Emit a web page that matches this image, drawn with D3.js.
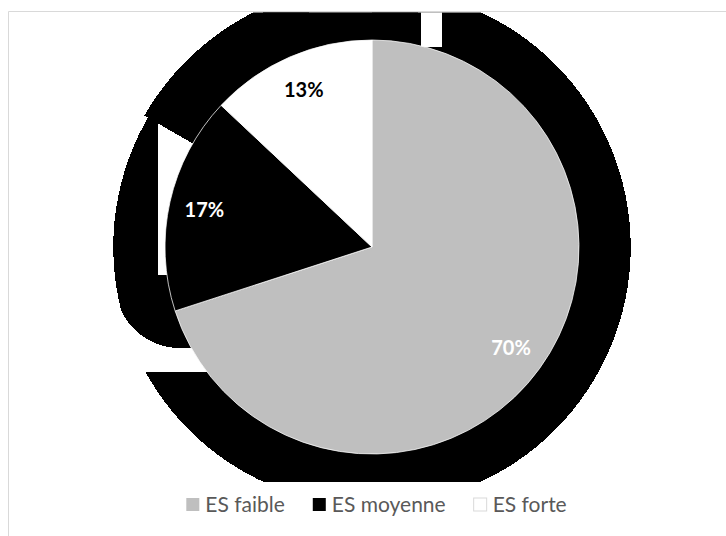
<!DOCTYPE html>
<html>
<head>
<meta charset="utf-8">
<script src="https://cdn.jsdelivr.net/npm/d3@7"></script>
<style>
  html, body { margin: 0; padding: 0; background: #fff; }
  svg { display: block; }
</style>
</head>
<body>
<svg id="chart" width="726" height="536"></svg>
<script>
// Series: share of respondents per level
const categories = ["ES faible", "ES moyenne", "ES forte"];
const shares = [70, 17, 13];
const labels = ["70%", "17%", "13%"];
const sliceColors = ["#bfbfbf", "#000000", "#ffffff"];
const labelColors = ["#ffffff", "#ffffff", "#000000"];

const W = 726, H = 536;
const cx = 372, cy = 247, R = 207;
const Rs = R * 1.25;             // shadow radius
const plotTop = 12.5, plotBottom = 482;

const svg = d3.select("#chart");
const defs = svg.append("defs");

defs.append("clipPath").attr("id", "plotClip")
  .append("rect").attr("x", 9).attr("y", plotTop)
  .attr("width", W).attr("height", plotBottom - plotTop);

// ---- shadow behind the pie ----
const shadow = svg.append("g").attr("clip-path", "url(#plotClip)")
  .attr("shape-rendering", "crispEdges");

shadow.append("circle").attr("cx", cx).attr("cy", cy).attr("r", Rs).attr("fill", "#000");

const gaps = shadow.append("g").attr("fill", "#fff");
gaps.append("rect").attr("x", cx + 49).attr("y", 0).attr("width", 21).attr("height", cy - R + 7);
gaps.append("rect").attr("x", cx - 214).attr("y", 0).attr("width", 214).attr("height", R + 68);
gaps.append("rect").attr("x", 0).attr("y", cy + 101).attr("width", cx).attr("height", 24);
// rounded lower-left corner of the left lobe
const rc = 65, ccx = cx - 192, ccy = cy + 36;
gaps.append("path")
  .attr("d", `M${ccx - rc - 30},${ccy} L${ccx - rc},${ccy} A${rc},${rc} 0 0 0 ${ccx},${ccy + rc} L${ccx - rc - 30},${ccy + rc} Z`);

// upper lobe wrapping the small slice
const lobe = shadow.append("g").attr("transform", `translate(${cx},${cy})`).attr("fill", "#000");
const deg = Math.PI / 180;
const Rl = R * 1.27;
lobe.append("path").attr("d", d3.arc()({
  innerRadius: 0, outerRadius: Rl, startAngle: -60 * deg, endAngle: -15 * deg, cornerRadius: 63
}));
lobe.append("path").attr("d", d3.arc()({
  innerRadius: 0, outerRadius: Rs, startAngle: -40 * deg, endAngle: 11 * deg, cornerRadius: 0
}));

// ---- pie ----
const pie = d3.pie().sort(null).value(d => d)(shares);
const arc = d3.arc().innerRadius(0).outerRadius(R);
const labelArc = d3.arc().innerRadius(R * 0.83).outerRadius(R * 0.83);

const pieG = svg.append("g").attr("transform", `translate(${cx},${cy})`);
pieG.selectAll("path.slice").data(pie).join("path")
  .attr("class", "slice")
  .attr("d", arc)
  .attr("fill", (d, i) => sliceColors[i])
  .attr("stroke", "#fff")
  .attr("stroke-width", 0.75);

pieG.selectAll("text.val").data(pie).join("text")
  .attr("class", "val")
  .attr("transform", d => `translate(${labelArc.centroid(d)})`)
  .attr("text-anchor", "middle")
  .attr("dy", "0.36em")
  .attr("font-family", "Lato, 'Open Sans', sans-serif")
  .attr("font-weight", "bold")
  .attr("font-size", 20)
  .attr("fill", (d, i) => labelColors[i])
  .text((d, i) => labels[i]);

// ---- legend ----
const legend = svg.append("g").attr("font-family", "Lato, 'Open Sans', sans-serif")
  .attr("font-size", 21).attr("fill", "#595959");
const sw = 13, gapText = 6, gapItem = 28, legendY = 512;
const items = legend.selectAll("g").data(categories).join("g");
items.append("rect")
  .attr("width", sw).attr("height", sw)
  .attr("y", legendY - 14)
  .attr("fill", (d, i) => sliceColors[i])
  .attr("stroke", (d, i) => i === 2 ? "#d9d9d9" : "none");
items.append("text")
  .attr("x", sw + gapText).attr("y", legendY)
  .text(d => d);
let xs = [], acc = 0;
items.each(function () {
  const w = d3.select(this).select("text").node().getComputedTextLength();
  xs.push(acc); acc += sw + gapText + w + gapItem;
});
const total = acc - gapItem;
const x0 = 376.5 - total / 2;
items.attr("transform", (d, i) => `translate(${x0 + xs[i]},0)`);

// ---- chart frame ----
svg.append("path")
  .attr("d", `M8.5,${H} L8.5,11.5 L${W},11.5`)
  .attr("fill", "none").attr("stroke", "#d9d9d9").attr("stroke-width", 1);
</script>
</body>
</html>
